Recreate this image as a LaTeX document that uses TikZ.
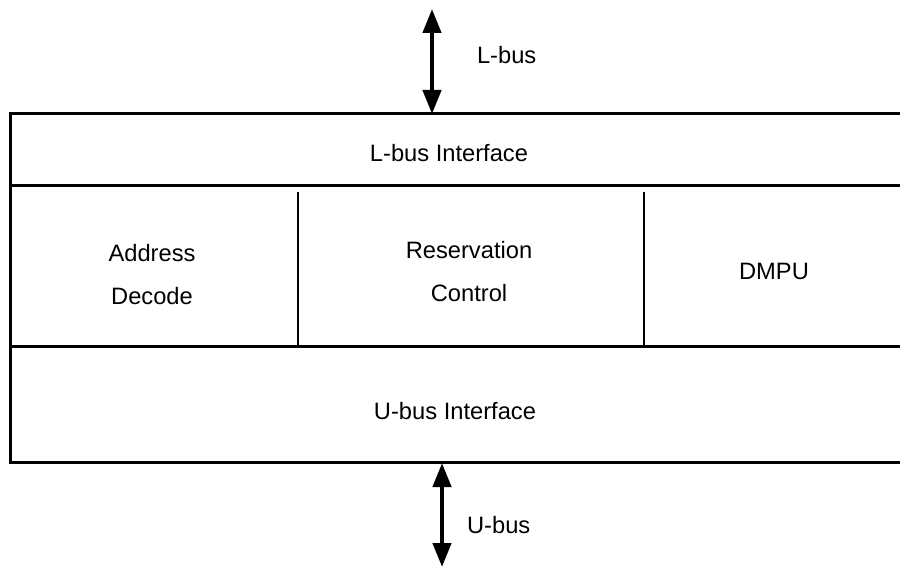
\documentclass[tikz,border=0pt]{standalone}
\usepackage{fontspec}
\setmainfont{Liberation Sans}
\usetikzlibrary{arrows.meta, positioning}

\begin{document}
\begin{tikzpicture}[x=0.5pt, y=-0.5pt, font=\fontsize{11.85}{21.5}\selectfont]
\tikzset{
  frame/.style={line width=1.5pt},
  divider/.style={line width=1pt},
  bus/.style={line width=2.2pt, {Triangle[length=12pt,width=9pt]}-{Triangle[length=12pt,width=9pt]}}
}
\clip (0,0) rectangle (900,567);
% outer frame, right side runs off the page
\draw[frame] (920,114) -- (10,114) -- (10,462) -- (920,462);
\draw[frame] (10,186) -- (920,186);
\draw[frame] (10,346) -- (920,346);
\foreach \x in {298,644}{
  \draw[divider] (\x,192) -- (\x,346);
}
\node (lif) at (449,153) {L-bus Interface};
\node[align=center] (addr) at (152,275) {Address\\Decode};
\node[align=center] (resv) at (469,272) {Reservation\\Control};
\node (dmpu) at (774,271) {DMPU};
\node (uif) at (455,411) {U-bus Interface};
% buses
\coordinate (ltop) at (432,9);
\coordinate (lbot) at (432,114);
\coordinate (utop) at (442,463);
\coordinate (ubot) at (442,567);
\draw[bus] (ltop) -- (lbot);
\draw[bus] (utop) -- (ubot);
\node[anchor=west] (lbus) at (470,55) {L-bus};
\node[anchor=west] (ubus) at (460,525) {U-bus};
\end{tikzpicture}
\end{document}
